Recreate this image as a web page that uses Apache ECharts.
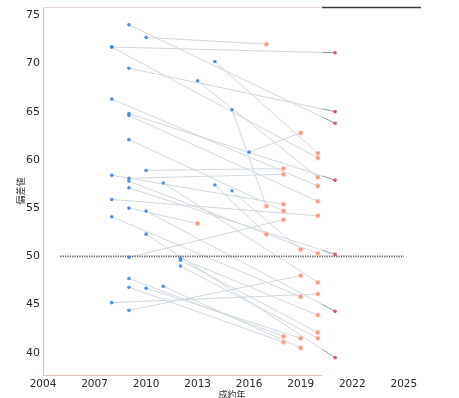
<!DOCTYPE html>
<html>
<head>
<meta charset="utf-8">
<script src="https://cdn.jsdelivr.net/npm/echarts@6/dist/echarts.min.js"></script>
<style>html,body{margin:0;padding:0;background:#fff;}#c{width:459px;height:398px;}</style>
</head>
<body>
<div id="c"></div>
<script>
// pairs: start (blue) -> end (orange, or red when year 2021)
const startYear = [2008,2008,2009,2010,2009,2013,2014,2008,2009,2009,2015,2016,2009,2008,2010,2009,2009,2011,2014,2009,2015,2008,2009,2010,2008,2010,2009,2012,2012,2012,2009,2009,2010,2011,2008,2009];
const startVal  = [71.7,71.7,74.0,72.7,69.5,68.2,70.2,66.3,64.8,64.6,65.2,60.8,62.1,58.4,58.9,58.1,57.8,57.6,57.4,57.1,56.8,55.9,55.0,54.7,54.1,52.3,49.9,49.8,49.6,49.0,47.7,46.8,46.7,46.9,45.2,44.4];
const endYear   = [2021,2020,2021,2017,2021,2020,2020,2020,2021,2020,2017,2019,2018,2018,2018,2018,2020,2020,2017,2021,2019,2020,2013,2021,2019,2021,2018,2020,2020,2020,2018,2018,2019,2019,2020,2019];
const endVal    = [71.1,60.2,63.8,72.0,65.0,58.2,60.7,57.3,57.9,55.7,55.2,62.8,54.7,55.4,59.1,58.5,50.3,47.3,52.3,50.2,50.7,54.2,53.4,44.3,45.8,39.5,53.8,43.9,42.1,41.5,41.7,41.1,41.5,40.5,46.1,48.0];
const redYear = 2021;
const refLineYears = [2005, 2025];
const refLineValue = 50;
const xTicks = [2004,2007,2010,2013,2016,2019,2022,2025];
const yTicks = [40,45,50,55,60,65,70,75];

const chart = echarts.init(document.getElementById('c'), null, {renderer:'canvas'});
const FONT = 'DejaVu Sans';
const series = [];
for (let i = 0; i < startYear.length; i++) {
  series.push({
    type:'line', silent:true, symbol:'none', z:2, animation:false,
    data:[[startYear[i], startVal[i]], [endYear[i], endVal[i]]],
    lineStyle:{color:'#8a9fb0', width:1}
  });
}
series.push({
  type:'line', silent:true, symbol:'none', z:4, animation:false,
  data: refLineYears.map(y => [y, refLineValue]),
  lineStyle:{color:'#555', width:1.6, type:[1.2,1.2]}
});
series.push({
  type:'scatter', z:6, animation:false, symbolSize:3.6,
  data: startYear.map((y,i)=>[y,startVal[i]]),
  itemStyle:{color:'#2f78d4'}
});
const orangeData = [], redData = [];
endYear.forEach((y,i)=>{ (y===redYear ? redData : orangeData).push([y,endVal[i]]); });
series.push({
  type:'scatter', z:6, animation:false, symbolSize:4.5,
  data: orangeData,
  itemStyle:{color:'#f08466', borderColor:'#fad2c6', borderWidth:1}
});
series.push({
  type:'scatter', z:6, animation:false, symbolSize:3.6,
  data: redData,
  itemStyle:{color:'#e2303a'}
});

chart.setOption({
  animation:false,
  grid:{left:43, right:38, top:7, bottom:23, containLabel:false, outerBoundsMode:'none'},
  xAxis:{
    type:'value', min:2004, max:2026,
    name:'成約年', nameLocation:'middle', nameGap:15, nameMoveOverlap:false,
    nameTextStyle:{fontFamily:'Noto Sans CJK JP', fontSize:9, color:'#333'},
    axisLine:{show:false}, axisTick:{show:false}, splitLine:{show:false},
    axisLabel:{customValues:xTicks, formatter:v=>String(v), fontFamily:FONT, fontSize:10.5, color:'#2a2a2a', margin:4}
  },
  yAxis:{
    type:'value', min:37.7, max:75.85,
    name:'偏差値', nameLocation:'middle', nameGap:18, nameRotate:90, nameMoveOverlap:false,
    nameTextStyle:{fontFamily:'Noto Sans CJK JP', fontSize:9, color:'#333'},
    axisLine:{show:false}, axisTick:{show:false}, splitLine:{show:false},
    axisLabel:{customValues:yTicks, fontFamily:FONT, fontSize:11, color:'#2a2a2a', margin:3}
  },
  series: series
});

// frame & overlay (layout decoration)
const frameEnd = 2020.25;
const p = (x,y)=>chart.convertToPixel({gridIndex:0},[x,y]);
const tl = p(2004,75.85), br = p(frameEnd,37.7), tr = p(2026,75.85);
chart.setOption({
  graphic:[
    {type:'rect', z:3, silent:true, shape:{x:tl[0], y:tl[1], width:br[0]-tl[0], height:br[1]-tl[1]}, style:{fill:'rgba(255,255,255,0.6)'}},
    {type:'line', z:7, silent:true, shape:{x1:tl[0]+0.5, y1:tl[1], x2:tl[0]+0.5, y2:br[1]}, style:{stroke:'#cfc6c2', lineWidth:1}},
    {type:'line', z:7, silent:true, shape:{x1:tl[0], y1:br[1]+0.5, x2:br[0], y2:br[1]+0.5}, style:{stroke:'#e2c6ba', lineWidth:1}},
    {type:'line', z:7, silent:true, shape:{x1:tl[0], y1:tl[1]+0.5, x2:br[0], y2:tl[1]+0.5}, style:{stroke:'#ead8d0', lineWidth:1}},
    {type:'line', z:7, silent:true, shape:{x1:br[0], y1:tl[1]+0.5, x2:tr[0], y2:tr[1]+0.5}, style:{stroke:'#3a3a3a', lineWidth:1.5}}
  ]
});
</script>
</body>
</html>
